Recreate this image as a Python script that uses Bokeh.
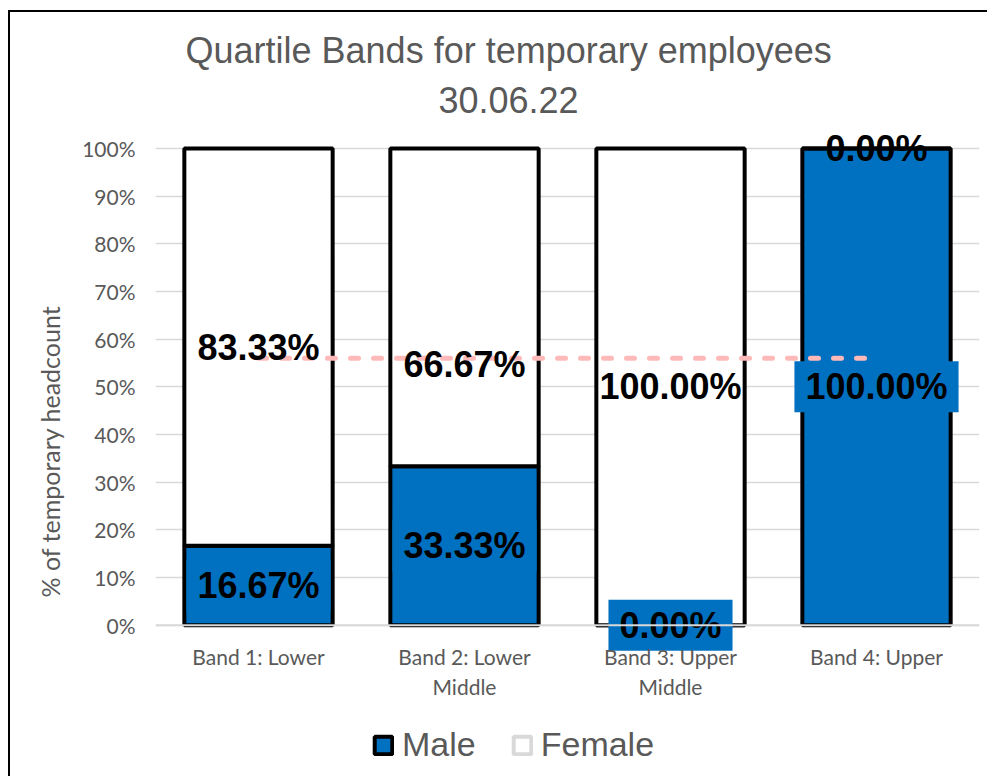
from bokeh.plotting import figure
from bokeh.layouts import column
from bokeh.models import ColumnDataSource, FactorRange, Range1d, Title, Legend, LegendItem, FixedTicker, Span
from bokeh.core.properties import value
from bokeh.embed import file_html
from bokeh.resources import INLINE

# ---- data ----
categories = ["Band 1: Lower", "Band 2: Lower\nMiddle", "Band 3: Upper\nMiddle", "Band 4: Upper"]
male = [16.67, 33.33, 0.00, 100.00]
female = [83.33, 66.67, 100.00, 0.00]
reference_line = [56.0, 56.0, 56.0, 56.0]
female_label_shift = [0.0, -12.0, 0.0, 0.0]
y_ticks = [0, 10, 20, 30, 40, 50, 60, 70, 80, 90, 100]
title_lines = ["Quartile Bands for temporary employees", "30.06.22"]
y_title = "% of temporary headcount"
series_names = ["Male", "Female"]

BLUE = "#0070C0"
GRAY = "#595959"
GRID = "#D9D9D9"

male_top = male
female_bottom = male
female_top = [m + f for m, f in zip(male, female)]
male_label_y = [m / 2 for m in male]
female_label_y = [b + f / 2 + s for b, f, s in zip(female_bottom, female, female_label_shift)]

src = ColumnDataSource(dict(
    cat=categories, male=male, female=female,
    male_top=male_top, female_bottom=female_bottom, female_top=female_top,
    male_label_y=male_label_y, female_label_y=female_label_y,
    male_text=[f"{v:.2f}%" for v in male],
    female_text=[f"{v:.2f}%" for v in female],
    line=reference_line,
))

p = figure(
    x_range=FactorRange(*categories),
    y_range=Range1d(-5.5, 104.8),
    width=977, height=700,
    output_backend="svg", toolbar_location=None,
    min_border_left=145, min_border_right=8, min_border_top=113, min_border_bottom=61,
)
p.outline_line_color = None
p.background_fill_color = "white"

# category baseline (axis line at 0%)
p.add_layout(Span(location=0, dimension="width", line_color=GRID, line_width=2))

# bars
r_male = p.vbar(x="cat", bottom=0, top="male_top", width=0.72, source=src,
                fill_color=BLUE, line_color="black", line_width=4)
r_female = p.vbar(x="cat", bottom="female_bottom", top="female_top", width=0.72, source=src,
                  fill_color="white", line_color="black", line_width=4)

# dashed line
p.line(x="cat", y="line", source=src, line_color="#FFB9B9", line_width=5,
       line_dash="8 15", line_cap="round")

# data labels
p.text(x="cat", y="female_label_y", text="female_text", source=src,
       text_font=value("Liberation Sans"), text_font_style="bold", text_font_size="36px",
       text_color="black", text_align="center", text_baseline="middle")
p.text(x="cat", y="male_label_y", text="male_text", source=src,
       text_font=value("Liberation Sans"), text_font_style="bold", text_font_size="36px",
       text_color="black", text_align="center", text_baseline="middle",
       background_fill_color=BLUE, padding=(11, 5))

# axes
p.yaxis.ticker = FixedTicker(ticks=y_ticks)
p.yaxis.major_label_overrides = {t: f"{t}%" for t in y_ticks}
p.yaxis.axis_line_color = None
p.yaxis.major_tick_line_color = None
p.yaxis.minor_tick_line_color = None
p.yaxis.major_label_text_font = "Lato"
p.yaxis.major_label_text_font_size = "21px"
p.yaxis.major_label_text_color = GRAY
p.yaxis.major_label_standoff = 14

p.xaxis.axis_line_color = None
p.xaxis.major_tick_line_color = None
p.xaxis.minor_tick_line_color = None
p.xaxis.major_label_text_font = "Lato"
p.xaxis.major_label_text_font_size = "21px"
p.xaxis.major_label_text_color = GRAY
p.xaxis.major_label_standoff = -14

p.xgrid.grid_line_color = None
p.ygrid.grid_line_color = GRID
p.ygrid.grid_line_width = 1.5

# y-axis title, placed to the left of the tick labels
p.add_layout(Title(text=y_title, align="left", offset=54, standoff=30,
                   text_font="Lato", text_font_size="25px",
                   text_font_style="normal", text_color=GRAY), "left")

# two-line title (second line nearest the plot, added first)
p.add_layout(Title(text=title_lines[1], align="left", offset=283, standoff=26,
                   text_font="Liberation Sans", text_font_size="36px",
                   text_font_style="normal", text_color=GRAY), "above")
p.add_layout(Title(text=title_lines[0], align="left", offset=30, standoff=2,
                   text_font="Liberation Sans", text_font_size="36px",
                   text_font_style="normal", text_color=GRAY), "above")

# legend in its own strip below the chart
lg = figure(width=977, height=64, x_range=Range1d(0, 977), y_range=Range1d(0, 64),
            output_backend="svg", toolbar_location=None,
            min_border_left=0, min_border_right=0, min_border_top=0, min_border_bottom=0)
lg.axis.visible = False
lg.grid.visible = False
lg.outline_line_color = None
proxy = ColumnDataSource(dict(x=[float("nan")], y=[float("nan")]))
lm = lg.vbar(x="x", top="y", bottom="y", width=1, source=proxy, fill_color=BLUE, line_color="black", line_width=4)
lf = lg.vbar(x="x", top="y", bottom="y", width=1, source=proxy, fill_color="white", line_color=GRID, line_width=4)
legend = Legend(items=[LegendItem(label=series_names[0], renderers=[lm]),
                       LegendItem(label=series_names[1], renderers=[lf])],
                location=(217, 12), orientation="horizontal",
                label_text_font="Liberation Sans", label_text_font_size="34px",
                label_text_color=GRAY, glyph_width=22, glyph_height=22,
                label_standoff=8, spacing=35, padding=0, margin=0,
                border_line_color=None, background_fill_alpha=0)
lg.add_layout(legend, "center")

layout = column(p, lg, spacing=0)
layout.styles = {"border-left": "2px solid black", "border-top": "2px solid black",
                 "margin-left": "8px", "margin-top": "10px"}

open("out.html", "w").write(file_html(layout, INLINE))
